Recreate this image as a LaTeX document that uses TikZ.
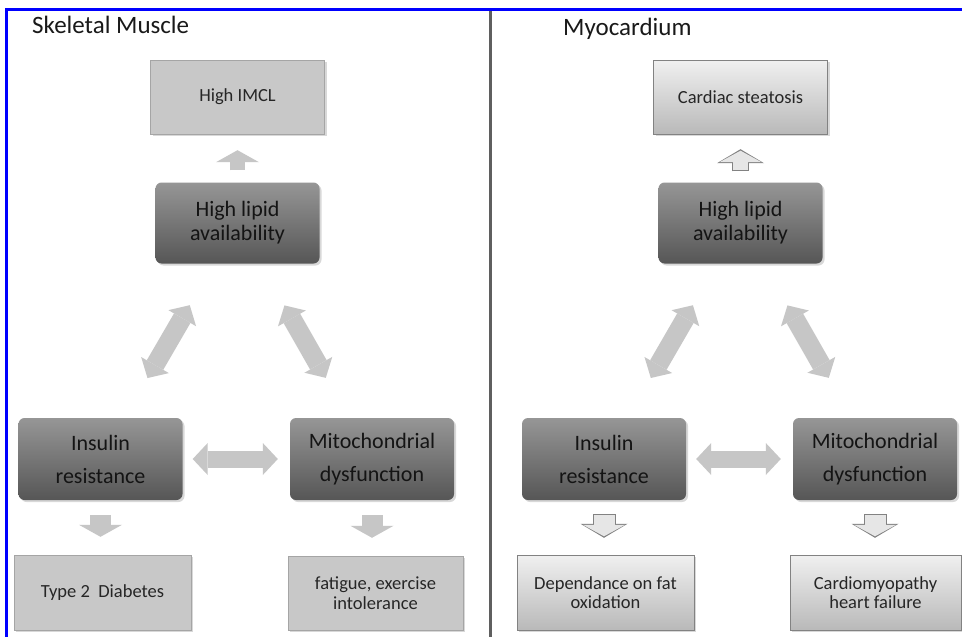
\documentclass[tikz,border=0pt]{standalone}
\usepackage{fontspec}
\setmainfont{Carlito}
\usetikzlibrary{arrows.meta, positioning, shadows}
\definecolor{frameblue}{RGB}{0, 0, 255}
\definecolor{darktop}{RGB}{150, 150, 150}
\definecolor{darkbot}{RGB}{86, 86, 86}
\definecolor{flatgray}{RGB}{200, 200, 200}
\definecolor{flatedge}{RGB}{165, 165, 165}
\definecolor{shadetop}{RGB}{240, 240, 240}
\definecolor{shadebot}{RGB}{185, 185, 185}
\definecolor{edgegray}{RGB}{130, 130, 130}
\definecolor{arrgray}{RGB}{198, 198, 198}
\definecolor{arrlight}{RGB}{230, 230, 230}
\definecolor{divgray}{RGB}{95, 95, 95}

\begin{document}
\begin{tikzpicture}[
    x=1pt, y=-1pt,
    title/.style={anchor=base west, inner sep=0pt, font=\fontsize{25}{28}\selectfont, text=black!90},
    darkbox/.style={rectangle, rounded corners=6pt, top color=darktop, bottom color=darkbot, minimum width=164pt, minimum height=81pt, inner sep=0pt, align=center, font=\fontsize{22}{24}\selectfont, text=black!92, drop shadow={shadow xshift=2pt, shadow yshift=-2pt, opacity=0.3}},
    flatbox/.style={rectangle, draw=flatedge, fill=flatgray, minimum width=176pt, minimum height=75pt, inner sep=0pt, align=center, font=\fontsize{18.5}{19.5}\selectfont, text=black!85, drop shadow={shadow xshift=2pt, shadow yshift=-2pt, opacity=0.3}},
    shadebox/.style={rectangle, draw=edgegray, top color=shadetop, bottom color=shadebot, minimum width=176pt, minimum height=75pt, inner sep=0pt, align=center, font=\fontsize{18.5}{19.5}\selectfont, text=black!85, drop shadow={shadow xshift=2pt, shadow yshift=-2pt, opacity=0.3}},
    dblarrow/.style={draw=arrgray, line width=19pt, {Triangle[length=15pt, width=32pt, line width=0pt]}-{Triangle[length=15pt, width=32pt, line width=0pt]}},
    solidarr/.style={draw=arrgray, line width=#1, -{Triangle[length=12pt, width=43pt, line width=0pt]}},
    rimarr/.style={draw=edgegray, line width=#1, -{Triangle[length=14pt, width=47pt, line width=0pt]}},
    fillarr/.style={draw=arrlight, line width=#1, -{Triangle[length=11.5pt, width=42pt, line width=0pt]}}
]
\useasboundingbox (0,0) rectangle (962,637);
\fill[white] (0,0) rectangle (962,637);

\draw[frameblue, line width=2.5pt] (6.5,637) -- (6.5,9.5) -- (962,9.5);
\draw[divgray, line width=3pt] (490.5,11) -- (490.5,637);

% skeletal muscle
\node[title] (skel) at (32,33) {Skeletal Muscle};
\node[flatbox, minimum width=174pt, minimum height=74pt] (imclL) at (237.5,97) {High IMCL};
\node[darkbox] (lipidL) at (237.5,223) {High lipid\\availability};
\node[darkbox, minimum height=82pt, font=\fontsize{22}{33}\selectfont] (insL) at (100.5,459) {Insulin\\resistance};
\node[darkbox, minimum height=82pt, font=\fontsize{22}{33}\selectfont] (mitoL) at (372,459) {Mitochondrial\\dysfunction};
\node[flatbox, minimum width=177pt] (typeL) at (102.5,592.5) {Type 2~ Diabetes};
\node[flatbox, minimum width=175pt, minimum height=74pt] (fatL) at (375.5,593) {fatigue, exercise\\intolerance};

\draw[solidarr=15pt, shorten <=12pt, shorten >=16pt] (lipidL) -- (lipidL |- imclL.south);
\draw[dblarrow, shorten <=48pt, shorten >=46pt] (lipidL) -- (insL);
\draw[dblarrow, shorten <=48pt, shorten >=46pt] (lipidL) -- (mitoL);
\draw[dblarrow, line width=17pt, shorten <=10pt, shorten >=12pt] (insL) -- (mitoL);
\draw[solidarr=21pt, shorten <=15pt, shorten >=18pt] (insL) -- (insL |- typeL.north);
\draw[solidarr=21pt, shorten <=15pt, shorten >=18pt] (mitoL) -- (mitoL |- fatL.north);

% myocardium
\node[title] (myo) at (563,35) {Myocardium};
\node[shadebox, minimum width=174pt, minimum height=74pt] (steatR) at (740.5,97) {Cardiac steatosis};
\node[darkbox] (lipidR) at (740.5,223) {High lipid\\availability};
\node[darkbox, minimum height=82pt, font=\fontsize{22}{33}\selectfont] (insR) at (604,459) {Insulin\\resistance};
\node[darkbox, minimum height=82pt, font=\fontsize{22}{33}\selectfont] (mitoR) at (875,459) {Mitochondrial\\dysfunction};
\node[shadebox, minimum width=177pt] (depR) at (605.5,592.5) {Dependance on fat\\oxidation};
\node[shadebox, minimum width=171pt] (cardR) at (875.5,592.5) {Cardiomyopathy\\heart failure};

\draw[rimarr=17pt, shorten <=11pt, shorten >=15pt] (lipidR) -- (lipidR |- steatR.south);
\draw[fillarr=15pt, shorten <=12pt, shorten >=16.5pt] (lipidR) -- (lipidR |- steatR.south);
\draw[dblarrow, shorten <=48pt, shorten >=46pt] (lipidR) -- (insR);
\draw[dblarrow, shorten <=48pt, shorten >=46pt] (lipidR) -- (mitoR);
\draw[dblarrow, line width=17pt, shorten <=10pt, shorten >=12pt] (insR) -- (mitoR);
\draw[rimarr=23pt, shorten <=14pt, shorten >=17pt] (insR) -- (insR |- depR.north);
\draw[fillarr=21pt, shorten <=15pt, shorten >=18.5pt] (insR) -- (insR |- depR.north);
\draw[rimarr=23pt, shorten <=14pt, shorten >=17pt] (mitoR) -- (mitoR |- cardR.north);
\draw[fillarr=21pt, shorten <=15pt, shorten >=18.5pt] (mitoR) -- (mitoR |- cardR.north);

\end{tikzpicture}
\end{document}
